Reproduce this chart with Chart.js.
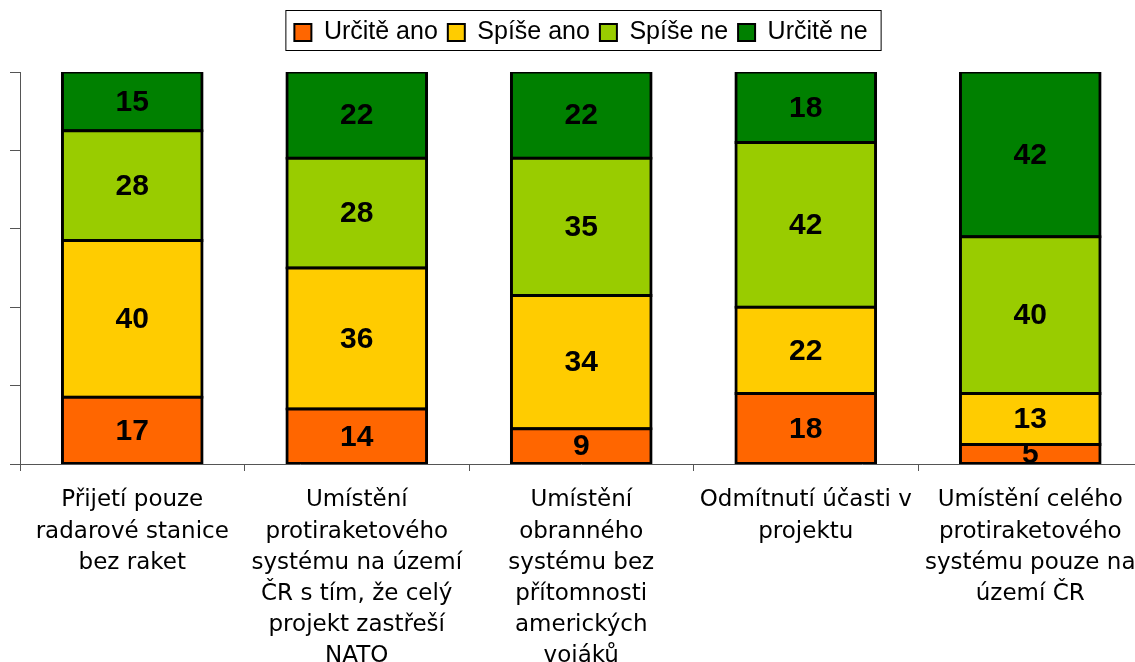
<!DOCTYPE html>
<html>
<head>
<meta charset="utf-8">
<script src="https://cdn.jsdelivr.net/npm/chart.js@4"></script>
<style>
    html, body { margin: 0; padding: 0; background: #fff; overflow: hidden; }
    #chart { display: block; }
</style>
</head>
<body>
<canvas id="chart" width="1150" height="662"></canvas>
<script>
// Data
const categories = [
    ['Přijetí pouze', 'radarové stanice', 'bez raket'],
    ['Umístění', 'protiraketového', 'systému na území', 'ČR s tím, že celý', 'projekt zastřeší', 'NATO'],
    ['Umístění', 'obranného', 'systému bez', 'přítomnosti', 'amerických', 'vojáků'],
    ['Odmítnutí účasti v', 'projektu'],
    ['Umístění celého', 'protiraketového', 'systému pouze na', 'území ČR']
];
const seriesNames = ['Určitě ano', 'Spíše ano', 'Spíše ne', 'Určitě ne'];
const urciteAno = [17, 14, 9, 18, 5];
const spiseAno = [40, 36, 34, 22, 13];
const spiseNe = [28, 28, 35, 42, 40];
const urciteNe = [15, 22, 22, 18, 42];
const seriesColors = ['#FF6600', '#FFCC00', '#99CC00', '#008000'];
const yTicks = [0, 20, 40, 60, 80, 100];

const seriesValues = [urciteAno, spiseAno, spiseNe, urciteNe];

// Popisky hodnot uprostřed segmentů
const valueLabels = {
    id: 'valueLabels',
    afterDatasetsDraw(chart) {
        const ctx = chart.ctx;
        ctx.save();
        ctx.font = 'bold 30px "Liberation Sans", Arial, sans-serif';
        ctx.fillStyle = '#000';
        ctx.textAlign = 'center';
        ctx.textBaseline = 'middle';
        chart.data.datasets.forEach((ds, i) => {
            chart.getDatasetMeta(i).data.forEach((bar, j) => {
                const y = (bar.y + bar.base) / 2;
                ctx.fillText(String(ds.data[j]), bar.x, y + 1);
            });
        });
        ctx.restore();
    }
};

// Rámeček kolem legendy
const legendFrame = {
    id: 'legendFrame',
    afterDraw(chart) {
        const boxes = chart.legend.legendHitBoxes;
        if (!boxes || !boxes.length) return;
        const first = boxes[0];
        const last = boxes[boxes.length - 1];
        const ctx = chart.ctx;
        ctx.save();
        ctx.strokeStyle = '#000';
        ctx.lineWidth = 1;
        ctx.strokeRect(first.left - 8.5, 10.5, last.left + last.width - first.left + 22, 40);
        ctx.restore();
    }
};

new Chart(document.getElementById('chart'), {
    type: 'bar',
    data: {
        labels: categories,
        datasets: seriesNames.map((name, i) => ({
            label: name,
            data: seriesValues[i],
            backgroundColor: seriesColors[i],
            borderColor: '#000',
            borderWidth: 3,
            inflateAmount: 1.5,
            borderSkipped: false,
            categoryPercentage: 1,
            barPercentage: 0.622
        }))
    },
    options: {
        responsive: false,
        animation: false,
        layout: { padding: { top: 10, left: 17, right: 5, bottom: 0 } },
        plugins: {
            tooltip: { enabled: false },
            legend: {
                position: 'top',
                labels: {
                    boxWidth: 17,
                    boxHeight: 17,
                    padding: 10,
                    color: '#000',
                    font: { family: '"Liberation Sans", Arial, sans-serif', size: 25 },
                    generateLabels(chart) {
                        return chart.data.datasets.map((ds, i) => ({
                            text: ds.label,
                            fillStyle: ds.backgroundColor,
                            strokeStyle: '#000',
                            lineWidth: 2,
                            datasetIndex: i
                        }));
                    }
                }
            },
            title: {
                display: true,
                text: '',
                weight: 500,
                font: { size: 10, lineHeight: 1 },
                padding: { top: 7, bottom: 0 }
            }
        },
        scales: {
            x: {
                stacked: true,
                grid: { drawOnChartArea: false, tickLength: 7, color: '#555', offset: true },
                border: { display: true, color: '#555' },
                ticks: {
                    autoSkip: false,
                    maxRotation: 0,
                    minRotation: 0,
                    padding: 14,
                    color: '#000',
                    font: { family: '"DejaVu Sans", Verdana, sans-serif', size: 23, lineHeight: 1.35 }
                },
                afterFit(scale) { scale.height = 198; }
            },
            y: {
                stacked: true,
                min: 0,
                max: 100,
                afterBuildTicks(scale) { scale.ticks = yTicks.map(v => ({ value: v })); },
                grid: { drawOnChartArea: false, tickLength: 10, color: '#555' },
                border: { display: true, color: '#555' },
                ticks: { display: false },
                afterFit(scale) { scale.width = 3; }
            }
        }
    },
    plugins: [valueLabels, legendFrame]
});
</script>
</body>
</html>
